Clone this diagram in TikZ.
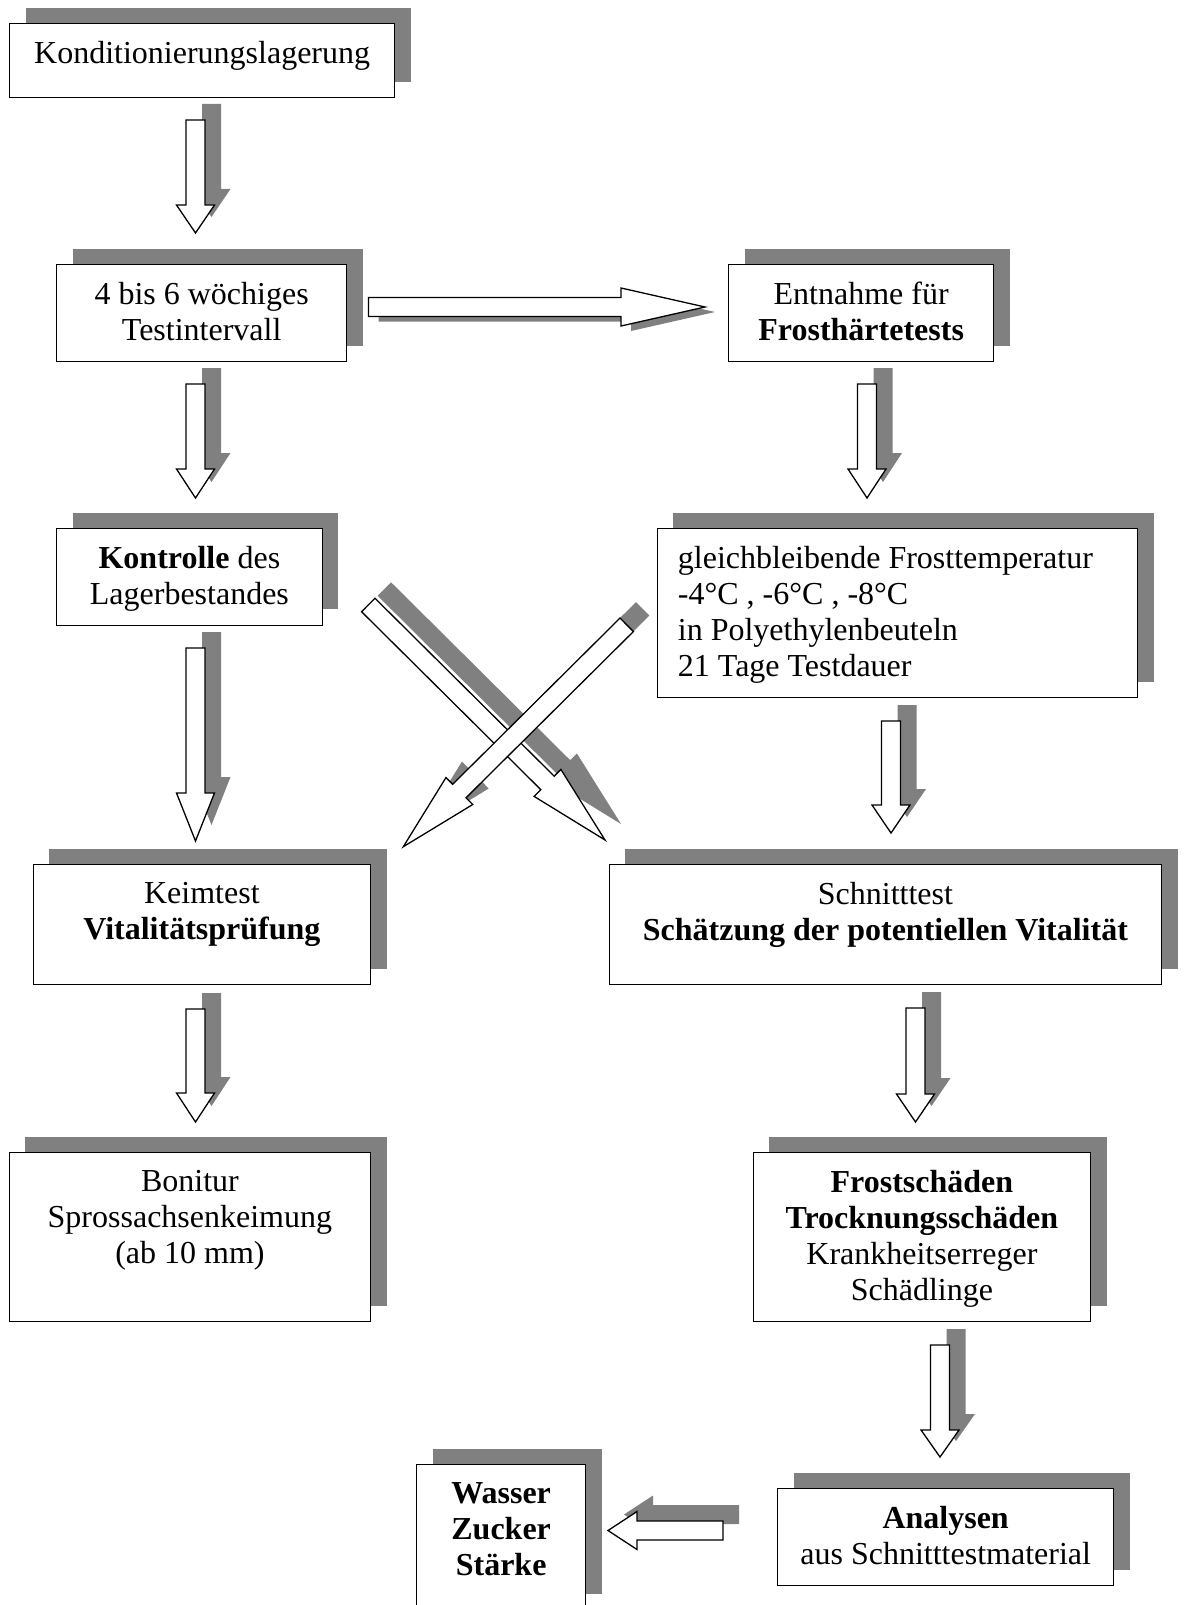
\documentclass[tikz,border=0pt]{standalone}
\usepackage{fontspec}
\setmainfont{Liberation Serif}
\usetikzlibrary{calc,shadows}
\definecolor{schattengrau}{RGB}{128,128,128}

% Blockpfeil: [Schattenversatz]{Anfang}{Spitze}{Kopflaenge}
\newcommand{\blockpfeil}[4][8pt,8pt]{%
  \coordinate (kb) at ($(#3)!#4!(#2)$);
  \coordinate (s1) at ($(#2)!4.75pt!90:(#3)$);
  \coordinate (s2) at ($(kb)!4.75pt!90:(#3)$);
  \coordinate (k1) at ($(kb)!9.5pt!90:(#3)$);
  \coordinate (k2) at ($(kb)!9.5pt!-90:(#3)$);
  \coordinate (s3) at ($(kb)!4.75pt!-90:(#3)$);
  \coordinate (s4) at ($(#2)!4.75pt!-90:(#3)$);
  \begin{scope}[transform canvas={shift={(#1)}}]
    \fill[schattengrau] (s1) -- (s2) -- (k1) -- (#3) -- (k2) -- (s3) -- (s4) -- cycle;
  \end{scope}
  \filldraw[fill=white,draw=black,line width=0.65pt]
    (s1) -- (s2) -- (k1) -- (#3) -- (k2) -- (s3) -- (s4) -- cycle;
}

\begin{document}
\begin{tikzpicture}[x=0.5pt,y=-0.5pt,font=\fontsize{16}{18}\selectfont]
  \tikzstyle{kasten}=[draw=black,fill=white,line width=0.65pt,anchor=north west,inner sep=0pt,
                      general shadow={fill=schattengrau,shadow xshift=8pt,shadow yshift=8pt}]
  \tikzstyle{inhalt}=[anchor=north,align=center,inner sep=0pt,yshift=-9pt]

  \useasboundingbox (0,0) rectangle (1183,1605);

  \node[kasten,minimum width=192.5pt,minimum height=37pt] (kond) at (9,23)
    [label={[inhalt]north:{Konditionierungslagerung}}] {};
  \node[kasten,minimum width=145pt,minimum height=48.5pt] (intervall) at (56,264)
    [label={[inhalt]north:{4 bis 6 wöchiges\\Testintervall}}] {};
  \node[kasten,minimum width=132.5pt,minimum height=48.5pt] (entnahme) at (728,264)
    [label={[inhalt]north:{Entnahme für\\\textbf{Frosthärtetests}}}] {};
  \node[kasten,minimum width=132.75pt,minimum height=48.25pt] (kontrolle) at (56,528)
    [label={[inhalt]north:{\textbf{Kontrolle} des\\Lagerbestandes}}] {};
  \node[kasten,minimum width=240.25pt,minimum height=84.5pt] (frosttemp) at (656.5,528)
    [label={[inhalt,anchor=north west,align=left,xshift=10.5pt]north west:{gleichbleibende Frosttemperatur\\-4°C , -6°C , -8°C\\in Polyethylenbeuteln\\21 Tage Testdauer}}] {};
  \node[kasten,minimum width=168.75pt,minimum height=60pt] (keimtest) at (32.5,864)
    [label={[inhalt]north:{Keimtest\\\textbf{Vitalitätsprüfung}}}] {};
  \node[kasten,minimum width=276.25pt,minimum height=60pt] (schnitttest) at (608.5,864)
    [label={[inhalt]north:{Schnitttest\\\textbf{Schätzung der potentiellen Vitalität}}}] {};
  \node[kasten,minimum width=180.75pt,minimum height=84.5pt] (bonitur) at (8.5,1152)
    [label={[inhalt]north:{Bonitur\\Sprossachsenkeimung\\(ab 10 mm)}}] {};
  \node[kasten,minimum width=168.75pt,minimum height=84.5pt] (schaeden) at (752.5,1152)
    [label={[inhalt]north:{\textbf{Frostschäden}\\\textbf{Trocknungsschäden}\\Krankheitserreger\\Schädlinge}}] {};
  \node[kasten,minimum width=168pt,minimum height=48.5pt] (analysen) at (777,1488)
    [label={[inhalt]north:{\textbf{Analysen}\\aus Schnitttestmaterial}}] {};
  \node[kasten,minimum width=84.5pt,minimum height=72.5pt] (stoffe) at (416,1464)
    [label={[inhalt]north:{\textbf{Wasser}\\\textbf{Zucker}\\\textbf{Stärke}}}] {};

  \coordinate (kond-aus)       at (195.5,120);  \coordinate (intervall-ein) at (195.5,233);
  \coordinate (intervall-aus)  at (195.5,384);  \coordinate (kontrolle-ein) at (195.5,498);
  \coordinate (intervall-re)   at (368.5,307);  \coordinate (entnahme-ein)  at (705,307);
  \coordinate (entnahme-aus)   at (867,384);    \coordinate (frosttemp-ein) at (867,498);
  \coordinate (kontrolle-aus)  at (195.5,648);  \coordinate (keimtest-ein)  at (195.5,841);
  \coordinate (frosttemp-aus)  at (891,721);    \coordinate (schnitt-ein)   at (891,833);
  \coordinate (kontrolle-diag) at (368.3,605);  \coordinate (schnitt-diag)  at (605,840);
  \coordinate (frosttemp-diag) at (626.7,624.8);\coordinate (keimtest-diag) at (403.3,846.7);
  \coordinate (keimtest-aus)   at (195.5,1009); \coordinate (bonitur-ein)   at (195.5,1122);
  \coordinate (schnitt-aus)    at (915.5,1008); \coordinate (schaeden-ein)  at (915.5,1122);
  \coordinate (schaeden-aus)   at (940,1345);   \coordinate (analysen-ein)  at (940,1457);
  \coordinate (analysen-aus)   at (723,1530.5); \coordinate (stoffe-ein)    at (608,1530.5);

  \blockpfeil{kond-aus}{intervall-ein}{14pt}
  \blockpfeil{intervall-aus}{kontrolle-ein}{14.5pt}
  \blockpfeil[5pt,-2.5pt]{intervall-re}{entnahme-ein}{42pt}
  \blockpfeil{entnahme-aus}{frosttemp-ein}{14.5pt}
  \blockpfeil{kontrolle-aus}{keimtest-ein}{24pt}
  \blockpfeil{frosttemp-aus}{schnitt-ein}{14pt}
  \blockpfeil{kontrolle-diag}{schnitt-diag}{40.5pt}
  \blockpfeil{frosttemp-diag}{keimtest-diag}{39.5pt}
  \blockpfeil{keimtest-aus}{bonitur-ein}{14.5pt}
  \blockpfeil{schnitt-aus}{schaeden-ein}{14pt}
  \blockpfeil{schaeden-aus}{analysen-ein}{13.5pt}
  \blockpfeil{analysen-aus}{stoffe-ein}{14.5pt}
\end{tikzpicture}
\end{document}
